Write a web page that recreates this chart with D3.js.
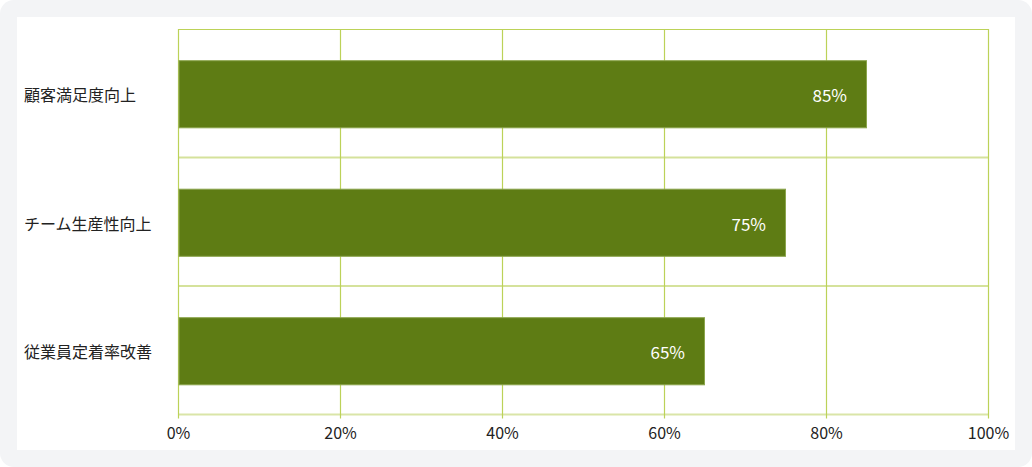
<!DOCTYPE html>
<html><head><meta charset="utf-8">
<script src="https://cdn.jsdelivr.net/npm/d3@7"></script>
<style>
html,body{margin:0;padding:0;background:#fff;}
svg{display:block;font-family:"Noto Sans CJK JP","Noto Sans",sans-serif;}
</style></head>
<body><svg id="c" width="1032" height="467"></svg>
<script>
const categories = ["顧客満足度向上","チーム生産性向上","従業員定着率改善"];
const values = [85, 75, 65];
const tickValues = [0, 20, 40, 60, 80, 100];

(function(){
const svg = d3.select("#c");
svg.append("rect").attr("x",0).attr("y",0).attr("width",1032).attr("height",467).attr("rx",14).attr("fill","#f3f4f6");
svg.append("rect").attr("x",17).attr("y",17).attr("width",998).attr("height",433).attr("fill","#fff");

const pL = 178.5, pR = 988.5, pT = 29, pB = 414.5;
const x = d3.scaleLinear().domain([0,100]).range([pL,pR]);
const y = d3.scaleBand().domain(categories).range([pT+1,pB+1]).paddingInner(0.47).paddingOuter(0.235);
const yb = d3.scaleBand().domain(categories).range([pT,pB]);

const g = svg.append("g");
g.selectAll("line.h").data(categories.slice(1)).join("line").attr("class","h")
  .attr("x1",pL).attr("x2",pR).attr("y1",d=>yb(d)).attr("y2",d=>yb(d))
  .attr("stroke","#d5e29b").attr("stroke-width",2);
g.append("line").attr("x1",pL).attr("x2",pR).attr("y1",pB).attr("y2",pB).attr("stroke","#dae5a8").attr("stroke-width",2);
g.selectAll("line.v").data(tickValues).join("line").attr("class","v")
  .attr("x1",d=>x(d)).attr("x2",d=>x(d))
  .attr("y1",pT).attr("y2",pB+4)
  .attr("stroke","#bcd258").attr("stroke-width",1.2);
g.append("line").attr("x1",pL).attr("x2",pR).attr("y1",pT+0.5).attr("y2",pT+0.5).attr("stroke","#bcd258").attr("stroke-width",1.2);

g.selectAll("rect.bar").data(values).join("rect").attr("class","bar")
  .attr("x",x(0)+0.5).attr("y",(d,i)=>y(categories[i])+0.5)
  .attr("width",d=>x(d)-x(0)-1).attr("height",y.bandwidth()-1)
  .attr("fill","#5e7c14").attr("stroke","#8ba54c").attr("stroke-width",1);

g.selectAll("text.val").data(values).join("text").attr("class","val")
  .attr("x",d=>x(d)-20).attr("y",(d,i)=>y(categories[i])+y.bandwidth()/2+8)
  .attr("text-anchor","end").attr("fill","#fff").attr("font-size",17)
  .text(d=>d+"%");

g.selectAll("text.cat").data(categories).join("text").attr("class","cat")
  .attr("x",24).attr("y",d=>y(d)+y.bandwidth()/2+7)
  .attr("fill","#222").attr("font-size",16).text(d=>d);

g.selectAll("text.tick").data(tickValues).join("text").attr("class","tick")
  .attr("x",d=>x(d)).attr("y",439)
  .attr("text-anchor","middle").attr("fill","#222").attr("font-size",16)
  .text(d=>d+"%");
})();
</script></body></html>
